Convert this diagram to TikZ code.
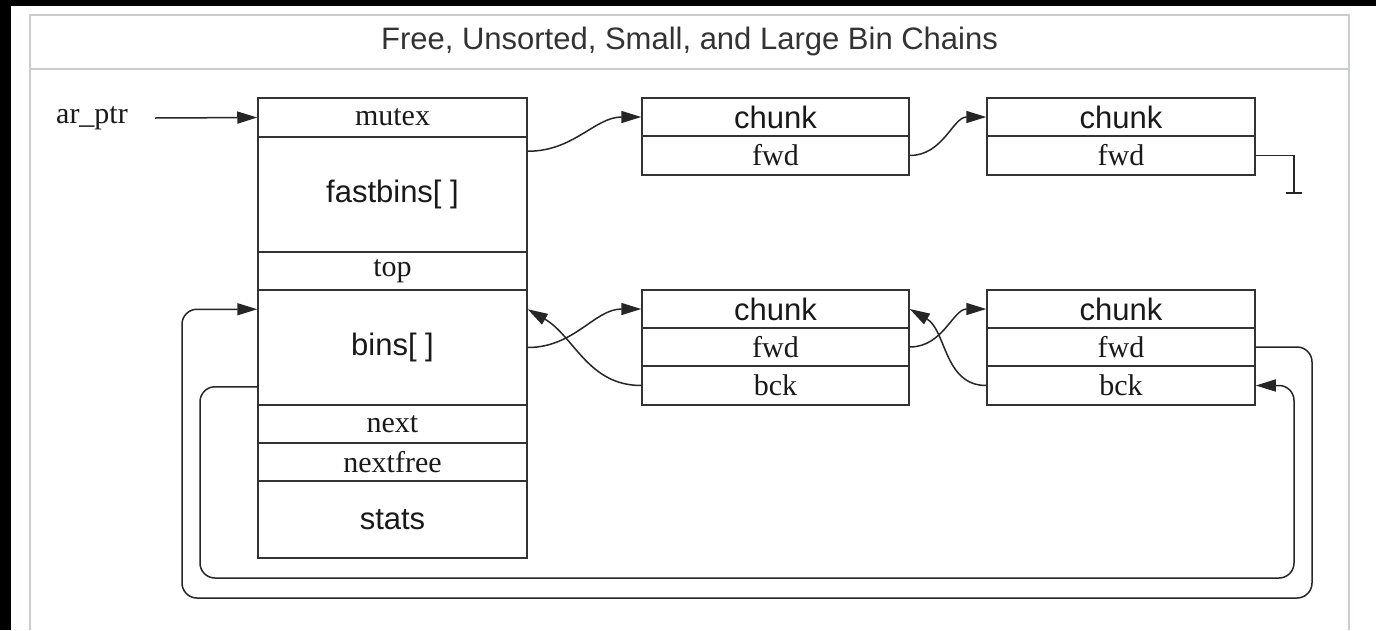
\documentclass[tikz,border=0pt]{standalone}
\usepackage{fontspec}
\setmainfont{Liberation Serif}
\setsansfont{Liberation Sans}
\usetikzlibrary{arrows.meta}

\definecolor{panelgray}{RGB}{200,205,210}

\tikzset{
  field/.style={draw=black!80, line width=1.5pt, inner sep=0pt, minimum width=269pt, text=black!90, font=\fontsize{30}{36}\selectfont},
  wide/.style={font=\sffamily\fontsize{31}{37}\selectfont},
  link/.style={draw=black!85, line width=1.5pt, -{Triangle[length=20pt,width=12pt]}},
  plain/.style={draw=black!85, line width=1.5pt},
  panel/.style={draw=panelgray, line width=2pt},
}

\begin{document}
\begin{tikzpicture}[x=1pt, y=-1pt]
      \useasboundingbox (0,0) rectangle (1376,630);
      \fill[black] (0,0) rectangle (1376,630);
      \fill[white] (11,6) rectangle (1376,630);
      \draw[panel] (30,630) -- (30,14.5) -- (1349,14.5) -- (1349,630);
      \draw[panel] (30,68.5) -- (1349,68.5);

      \node[wide, text=black!80] (title) at (689.5,41) {Free, Unsorted, Small, and Large Bin Chains};

      % arena
      \node[text=black!90, font=\fontsize{30}{36}\selectfont] (arptr) at (92,118) {ar\_ptr};
      \node[field, minimum height=39pt] (mutex) at (392.5,117.5) {mutex};
      \node[field, wide, minimum height=115pt] (fastbins) at (392.5,194.5) {fastbins[ ]};
      \node[field, minimum height=38pt] (top) at (392.5,271) {top};
      \node[field, wide, minimum height=115pt] (bins) at (392.5,347.5) {bins[ ]};
      \node[field, minimum height=38pt] (next) at (392.5,424) {next};
      \node[field, minimum height=38pt] (nextfree) at (392.5,462) {nextfree};
      \node[field, wide, minimum height=77pt] (stats) at (392.5,519.5) {stats};

      % fastbin chain
      \node[field, wide, minimum width=267pt, minimum height=38pt] (c1) at (775.5,117) {chunk};
      \node[field, minimum width=267pt, minimum height=39pt] (c1f) at (775.5,155.5) {fwd};
      \node[field, wide, minimum width=268pt, minimum height=38pt] (c2) at (1121,117) {chunk};
      \node[field, minimum width=268pt, minimum height=39pt] (c2f) at (1121,155.5) {fwd};

      % bin chain
      \node[field, wide, minimum width=267pt, minimum height=38pt] (c3) at (775.5,309) {chunk};
      \node[field, minimum width=267pt, minimum height=38pt] (c3f) at (775.5,347) {fwd};
      \node[field, minimum width=267pt, minimum height=39pt] (c3b) at (775.5,385.5) {bck};
      \node[field, wide, minimum width=268pt, minimum height=38pt] (c4) at (1121,309) {chunk};
      \node[field, minimum width=268pt, minimum height=38pt] (c4f) at (1121,347) {fwd};
      \node[field, minimum width=268pt, minimum height=39pt] (c4b) at (1121,385.5) {bck};

      \coordinate (arin) at (155,118);
      \coordinate (nullend) at (1294,193);
      \coordinate (outerR) at (1312,598);
      \coordinate (outerL) at (182,598);
      \coordinate (innerL) at (200,578);
      \coordinate (innerR) at (1294,578);

      \draw[link] (arin) -- (mutex.west);
      \draw[link] ([yshift=-15pt]fastbins.north east) to[out=0, in=180] (c1.west);
      \draw[link] (c1f.east) to[out=0, in=180] (c2.west);
      \draw[plain] (c2f.east) -| (nullend);
      \draw[plain] ([xshift=-8pt]nullend) -- ([xshift=8pt]nullend);

      \draw[link] (bins.east) to[out=0, in=180] (c3.west);
      \draw[link] (c3b.west) to[out=180, in=-30] ([yshift=-20pt]bins.north east);
      \draw[link] (c3f.east) to[out=0, in=180] (c4.west);
      \draw[link] (c4b.west) to[out=180, in=-30] (c3.east);

      \draw[link, rounded corners=15pt] (c4f.east) -| (outerR) -- (outerL) |- ([yshift=-20pt]bins.north west);
      \draw[link, rounded corners=15pt] ([yshift=19pt]bins.south west) -| (innerL) -- (innerR) |- (c4b.east);
\end{tikzpicture}
\end{document}
